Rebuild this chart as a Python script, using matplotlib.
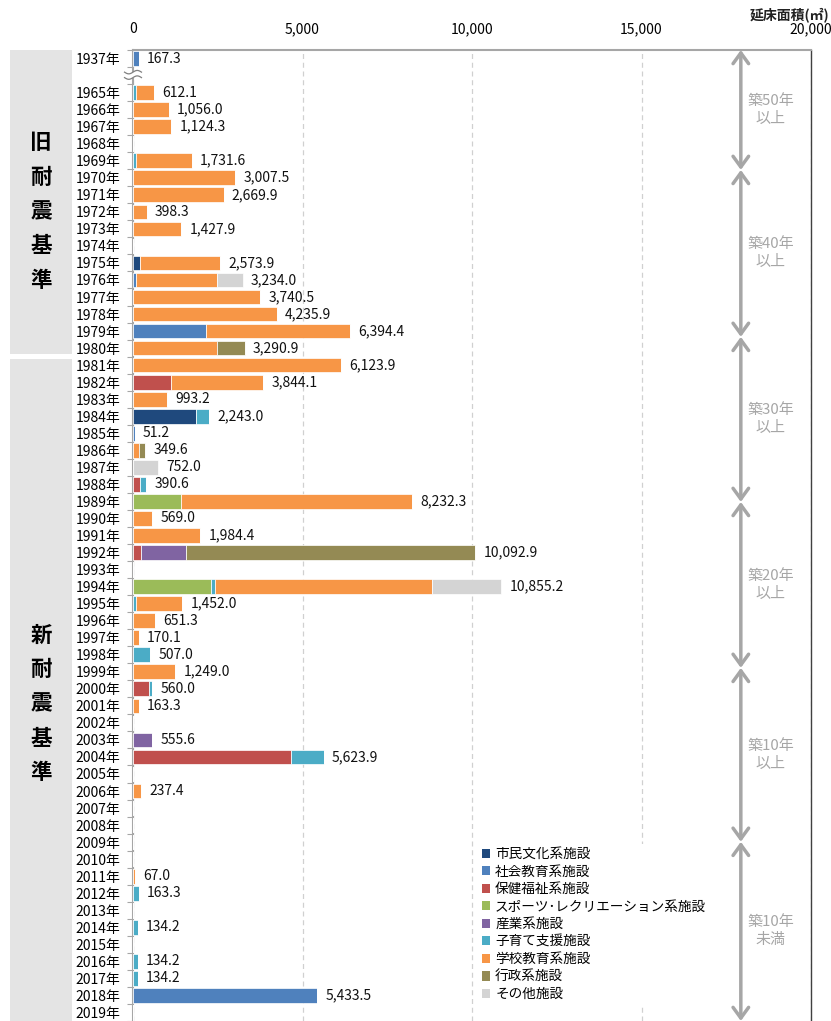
import numpy as np
import matplotlib
matplotlib.use("Agg")
from matplotlib import pyplot as plt
from matplotlib.patches import Rectangle, Patch
from matplotlib.transforms import blended_transform_factory

plt.rcParams['font.family'] = ['Noto Sans CJK JP', 'DejaVu Sans']

# construction year of the building stock (1937 stands alone, then 1965-2019)
years = [1937] + list(range(1965, 2020))

# floor area (m2) per facility type and construction year
civic = {1975: 220.0, 1984: 1870.0}
social_edu = {1937: 167.3, 1976: 100.0, 1979: 2160.0, 1985: 51.2, 2018: 5433.5}
welfare = {1982: 1110.0, 1988: 200.0, 1992: 245.0, 2000: 470.0, 2004: 4650.0}
sports = {1989: 1410.0, 1994: 2310.0}
industry = {1992: 1310.0, 2003: 555.6}
childcare = {1965: 80.0, 1969: 100.0, 1984: 373.0, 1988: 190.6, 1994: 100.0,
             1995: 100.0, 1998: 507.0, 2000: 90.0, 2004: 973.9, 2012: 163.3,
             2014: 134.2, 2016: 134.2, 2017: 134.2}
school = {1965: 532.1, 1966: 1056.0, 1967: 1124.3, 1969: 1631.6, 1970: 3007.5,
          1971: 2669.9, 1972: 398.3, 1973: 1427.9, 1975: 2353.9, 1976: 2390.0,
          1977: 3740.5, 1978: 4235.9, 1979: 4234.4, 1980: 2470.0, 1981: 6123.9,
          1982: 2734.1, 1983: 993.2, 1986: 180.0, 1989: 6822.3, 1990: 569.0,
          1991: 1984.4, 1994: 6420.0, 1995: 1352.0, 1996: 651.3, 1997: 170.1,
          1999: 1249.0, 2001: 163.3, 2006: 237.4, 2011: 67.0}
admin = {1980: 820.9, 1986: 169.6, 1992: 8537.9}
other = {1976: 744.0, 1987: 752.0, 1994: 2025.2}

series = [civic, social_edu, welfare, sports, industry, childcare, school, admin, other]
labels = ['市民文化系施設', '社会教育系施設', '保健福祉系施設',
          'スポーツ･レクリエーション系施設', '産業系施設', '子育て支援施設',
          '学校教育系施設', '行政系施設', 'その他施設']
colors = ['#1f497d', '#4f81bd', '#c0504d', '#9bbb59', '#8064a2',
          '#4bacc6', '#f79646', '#948a54', '#d4d4d4']

# age bands on the right (boundaries in row units) and their captions
age_edges = [-0.5, 6.54, 16.34, 26.03, 35.77, 45.98, 56.5]
age_labels = ['築50年\n以上', '築40年\n以上', '築30年\n以上',
              '築20年\n以上', '築10年\n以上', '築10年\n未満']

xticks = [0, 5000, 10000, 15000, 20000]

# row positions: one empty slot for the axis break after 1937
pos = np.array([0] + [y - 1963 for y in years[1:]], dtype=float)

fig = plt.figure(figsize=(8.31, 10.21), dpi=100)
ax = fig.add_axes([133 / 831, 0, 678 / 831, 971 / 1021])

left = np.zeros(len(years))
for data, lab, col in zip(series, labels, colors):
    vals = np.array([data.get(y, 0.0) for y in years])
    ax.barh(pos, vals, left=left, height=0.86, color=col, edgecolor='white',
            linewidth=0.5, label=lab, zorder=3)
    left += vals

for p, tot in zip(pos, left):
    if tot > 0:
        ax.annotate(f"{tot:,.1f}", (tot, p), xytext=(6, 0), textcoords='offset points',
                    va='center', ha='left', fontsize=10, color='#111111', zorder=4)

ax.set_xlim(0, 20000)
ax.set_ylim(56.5, -0.5)

ax.xaxis.tick_top()
ax.set_xticks(xticks)
ax.set_xticklabels([f"{v:,}" for v in xticks], fontsize=10)
ax.tick_params(axis='x', length=0, pad=10)
ax.grid(axis='x', color='#d0d0d0', linestyle=(0, (4, 3)), linewidth=0.9, zorder=0)

ax.set_yticks(pos)
ax.set_yticklabels([f"{y}年" for y in years], fontsize=10)
ax.tick_params(axis='y', length=0, pad=9)
ax.set_yticks(np.arange(-0.5, 57, 1), minor=True)
ax.tick_params(axis='y', which='minor', length=4, width=0.8, color='#a6a6a6')

for s in ['top', 'left']:
    ax.spines[s].set_color('#a6a6a6')
    ax.spines[s].set_linewidth(1.5)
ax.spines['right'].set_color('#404040')
ax.spines['right'].set_linewidth(1.0)
ax.spines['bottom'].set_visible(False)

# axis break between 1937 and 1965
ax.add_patch(Rectangle((-250, 0.78), 500, 0.36, facecolor='white', edgecolor='none',
                       clip_on=False, zorder=5))
wx = np.linspace(-250, 250, 40)
for y0 in (0.8, 1.12):
    ax.plot(wx, y0 + 0.1 * np.sin((wx + 250) / 500 * 2 * np.pi), color='#808080',
            lw=0.9, clip_on=False, zorder=6)

# age-band arrows
ax_x = 17930
for a, b, txt in zip(age_edges[:-1], age_edges[1:], age_labels):
    ax.annotate('', xy=(ax_x, a), xytext=(ax_x, b),
                arrowprops=dict(arrowstyle='<->,head_length=0.55,head_width=0.4',
                                color='#a6a6a6', lw=2.5, shrinkA=0, shrinkB=0,
                                mutation_scale=14), annotation_clip=False)
    ax.text(18810, (a + b) / 2, txt, ha='center', va='center', fontsize=10.8,
            color='#a6a6a6', linespacing=1.35)

# side panels for old / new seismic standards
trans = blended_transform_factory(fig.transFigure, ax.transData)
for y0, y1, txt, yc in [(-0.5, 17.35, '旧耐震基準', 8.98), (17.65, 56.5, '新耐震基準', 37.9)]:
    fig.patches.append(Rectangle((10 / 831, y0), 62 / 831, y1 - y0, transform=trans,
                                 facecolor='#e4e4e4', edgecolor='none'))
    fig.text(41 / 831, yc, '\n'.join(txt), transform=trans, ha='center',
             va='center', fontsize=15.5, fontweight='bold', linespacing=1.78)

fig.text(0.998, 0.993, '延床面積(㎡)', ha='right', va='top', fontsize=10,
         fontweight='bold', color='#222222')

handles = [Patch(facecolor=c, label=l) for c, l in zip(colors, labels)]
leg = ax.legend(handles=handles, loc='upper left', bbox_to_anchor=(0.51, 0.182),
                frameon=True, facecolor='white', edgecolor='none', framealpha=1,
                fontsize=9.8, handlelength=0.65, handleheight=0.65, handletextpad=0.35,
                labelspacing=0.26, borderpad=0.2, borderaxespad=0)
leg.set_zorder(7)

fig.savefig('out.png', dpi=100)
